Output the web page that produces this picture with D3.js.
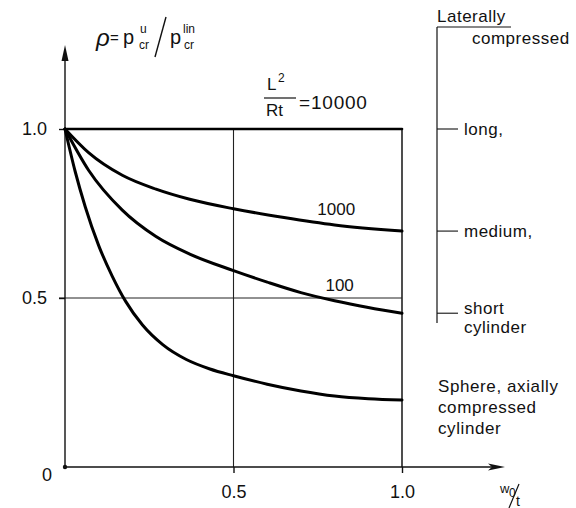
<!DOCTYPE html>
<html>
<head>
<meta charset="utf-8">
<script src="https://cdn.jsdelivr.net/npm/d3@7"></script>
<style>
  body { margin: 0; background: #fff; }
  svg { display: block; }
  text { font-family: "Liberation Sans", Arial, sans-serif; fill: #111; }
</style>
</head>
<body>
<svg id="chart"></svg>
<script>
// w0/t on x, rho = p_u / p_lin on y
const xTicks = [0.5, 1.0];
const yTicks = [0.5, 1.0];

const curve10000X = [0, 1.0];
const curve10000Y = [1.0, 1.0];

const curve1000X = [0, 0.07, 0.17, 0.27, 0.37, 0.5, 0.65, 0.8, 1.0];
const curve1000Y = [1.0, 0.93, 0.863, 0.822, 0.792, 0.764, 0.738, 0.716, 0.698];

const curve100X = [0, 0.07, 0.17, 0.27, 0.37, 0.5, 0.6, 0.7, 0.8, 0.9, 1.0];
const curve100Y = [1.0, 0.878, 0.76, 0.682, 0.63, 0.581, 0.547, 0.516, 0.492, 0.472, 0.455];

const sphereX = [0, 0.03, 0.06, 0.1, 0.14, 0.18, 0.23, 0.29, 0.36, 0.43, 0.5, 0.6, 0.7, 0.8, 0.9, 1.0];
const sphereY = [1.0, 0.875, 0.77, 0.655, 0.565, 0.49, 0.42, 0.362, 0.318, 0.29, 0.27, 0.245, 0.225, 0.21, 0.202, 0.198];

const W = 576, H = 508;
const svg = d3.select("#chart").attr("width", W).attr("height", H);

const x = d3.scaleLinear().domain([0, 1]).range([65, 402]);
const y = d3.scaleLinear().domain([0, 1]).range([467, 129]);

// grid lines
svg.append("line")
    .attr("x1", x(0) - 6).attr("x2", x(1))
    .attr("y1", y(0.5)).attr("y2", y(0.5))
    .attr("stroke", "#222").attr("stroke-width", 1);
svg.selectAll(".vgrid")
    .data(xTicks)
    .join("line")
    .attr("class", "vgrid")
    .attr("x1", d => x(d)).attr("x2", d => x(d))
    .attr("y1", y(1)).attr("y2", y(0))
    .attr("stroke", "#222")
    .attr("stroke-width", d => d === 1 ? 1.6 : 1.1);

// y axis with arrow
svg.append("line")
    .attr("x1", x(0)).attr("x2", x(0))
    .attr("y1", y(0)).attr("y2", 56)
    .attr("stroke", "#111").attr("stroke-width", 1.4);
svg.append("path")
    .attr("d", `M${x(0)},45 L${x(0) - 3.5},61 L${x(0) + 3.5},61 Z`)
    .attr("fill", "#111");

// x axis with arrow
svg.append("line")
    .attr("x1", x(0)).attr("x2", 494)
    .attr("y1", y(0)).attr("y2", y(0))
    .attr("stroke", "#111").attr("stroke-width", 1.4);
svg.append("path")
    .attr("d", `M505,${y(0)} L488,${y(0) - 3.5} L492,${y(0)} L488,${y(0) + 3.5} Z`)
    .attr("fill", "#111");
svg.append("circle")
    .attr("cx", x(0)).attr("cy", y(0)).attr("r", 2.2).attr("fill", "#111");

// tick labels
const yAxis = svg.append("g")
    .attr("transform", `translate(${x(0)},0)`)
    .call(d3.axisLeft(y).tickValues(yTicks).tickSize(6).tickPadding(12)
        .tickFormat(d3.format(".1f")));
const xAxis = svg.append("g")
    .attr("transform", `translate(0,${y(0)})`)
    .call(d3.axisBottom(x).tickValues(xTicks).tickSize(6).tickPadding(12)
        .tickFormat(d3.format(".1f")));
[yAxis, xAxis].forEach(g => {
    g.select(".domain").remove();
    g.selectAll(".tick line").attr("stroke", "#111").attr("stroke-width", 1.4);
    g.selectAll(".tick text").attr("font-size", 18).attr("font-family", null).attr("fill", "#111");
});
svg.append("text")
    .attr("x", 47).attr("y", 481)
    .attr("text-anchor", "middle").attr("font-size", 18)
    .text("0");

// curves
const line = d3.line()
    .x(d => x(d[0]))
    .y(d => y(d[1]))
    .curve(d3.curveMonotoneX);

const series = [
    { xs: curve10000X, ys: curve10000Y, w: 2.6 },
    { xs: curve1000X, ys: curve1000Y, w: 3 },
    { xs: curve100X, ys: curve100Y, w: 3 },
    { xs: sphereX, ys: sphereY, w: 3 }
];
svg.selectAll(".curve")
    .data(series)
    .join("path")
    .attr("class", "curve")
    .attr("fill", "none")
    .attr("stroke", "#000")
    .attr("stroke-width", d => d.w)
    .attr("stroke-linecap", "round")
    .attr("d", d => line(d.xs.map((v, i) => [v, d.ys[i]])));

// curve labels
svg.append("text")
    .attr("x", x(0.805)).attr("y", y(0.745))
    .attr("text-anchor", "middle").attr("font-size", 17)
    .text("1000");
svg.append("text")
    .attr("x", x(0.815)).attr("y", y(0.52))
    .attr("text-anchor", "middle").attr("font-size", 17)
    .text("100");

// L^2/Rt = 10000
const frac = svg.append("g");
frac.append("text").attr("x", 267).attr("y", 90).attr("font-size", 17).text("L");
frac.append("text").attr("x", 278).attr("y", 82).attr("font-size", 12).text("2");
frac.append("line")
    .attr("x1", 264).attr("x2", 296).attr("y1", 98).attr("y2", 98)
    .attr("stroke", "#111").attr("stroke-width", 1.2);
frac.append("text").attr("x", 266).attr("y", 116).attr("font-size", 17).text("Rt");
frac.append("text").attr("x", 299).attr("y", 109).attr("font-size", 19)
    .attr("letter-spacing", 0.8).text("=10000");

// y axis title: rho = p_cr^u / p_cr^lin
const title = svg.append("g");
title.append("text").attr("x", 96).attr("y", 46).attr("font-size", 24)
    .attr("font-style", "italic").attr("font-family", "DejaVu Serif, serif").text("ρ");
title.append("text").attr("x", 110).attr("y", 43).attr("font-size", 15).text("=");
title.append("text").attr("x", 123).attr("y", 44).attr("font-size", 20).text("p");
title.append("text").attr("x", 140).attr("y", 33).attr("font-size", 12).text("u");
title.append("text").attr("x", 139).attr("y", 49).attr("font-size", 12).text("cr");
title.append("line")
    .attr("x1", 155).attr("y1", 57).attr("x2", 166).attr("y2", 17)
    .attr("stroke", "#111").attr("stroke-width", 1.4);
title.append("text").attr("x", 170).attr("y", 44).attr("font-size", 20).text("p");
title.append("text").attr("x", 183).attr("y", 33).attr("font-size", 12).text("lin");
title.append("text").attr("x", 184).attr("y", 49).attr("font-size", 12).text("cr");

// x axis title: w0/t
svg.append("text").attr("x", 500).attr("y", 493).attr("font-size", 13).text("w");
svg.append("text").attr("x", 509).attr("y", 497).attr("font-size", 12).text("0");
svg.append("line")
    .attr("x1", 509).attr("y1", 508).attr("x2", 519).attr("y2", 484)
    .attr("stroke", "#111").attr("stroke-width", 1.2);
svg.append("text").attr("x", 516).attr("y", 506).attr("font-size", 14).text("t");

// right-hand bracket: cylinder classes
const bx = 437;
const bracketLabels = ["long,", "medium,", "short"];
const bracketValues = [curve10000Y[1], curve1000Y[curve1000Y.length - 1], curve100Y[curve100Y.length - 1]];
svg.append("line")
    .attr("x1", bx).attr("x2", bx).attr("y1", 27).attr("y2", 323)
    .attr("stroke", "#111").attr("stroke-width", 1.2);
svg.append("line")
    .attr("x1", bx).attr("x2", 511).attr("y1", 27).attr("y2", 27)
    .attr("stroke", "#111").attr("stroke-width", 1.2);
svg.append("text").attr("x", bx).attr("y", 22).attr("font-size", 17)
    .attr("letter-spacing", 0.5).text("Laterally");
svg.append("text").attr("x", 472).attr("y", 44).attr("font-size", 17)
    .attr("letter-spacing", 0.5).text("compressed");
svg.selectAll(".btick")
    .data(bracketValues)
    .join("line")
    .attr("class", "btick")
    .attr("x1", bx).attr("x2", bx + 21)
    .attr("y1", d => y(d)).attr("y2", d => y(d))
    .attr("stroke", "#111").attr("stroke-width", 1.1);
svg.selectAll(".blabel")
    .data(bracketValues)
    .join("text")
    .attr("class", "blabel")
    .attr("x", bx + 27)
    .attr("y", (d, i) => y(d) + (i === 2 ? 1 : 6))
    .attr("font-size", 17)
    .attr("letter-spacing", 0.5)
    .text((d, i) => bracketLabels[i]);
svg.append("text").attr("x", bx + 27).attr("y", y(bracketValues[2]) + 20)
    .attr("font-size", 17).attr("letter-spacing", 0.5).text("cylinder");

// sphere label
const sphereLines = ["Sphere, axially", "compressed", "cylinder"];
svg.selectAll(".slabel")
    .data(sphereLines)
    .join("text")
    .attr("class", "slabel")
    .attr("x", 438)
    .attr("y", (d, i) => 392 + i * 21)
    .attr("font-size", 17)
    .attr("letter-spacing", 0.6)
    .text(d => d);
</script>
</body>
</html>
